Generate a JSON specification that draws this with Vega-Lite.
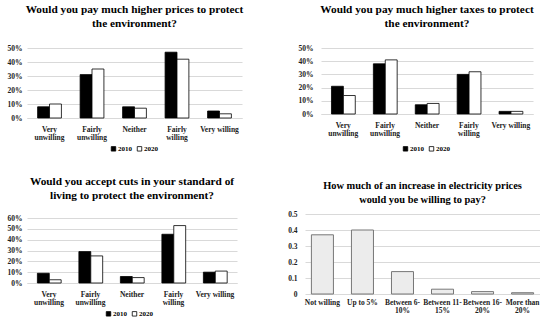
{
  "$schema": "https://vega.github.io/schema/vega-lite/v6.json",
  "background": "white",
  "padding": {"left": 7, "top": 4, "right": 0, "bottom": 0},
  "datasets": {
    "prices": [
      {"answer": "Very unwilling", "year": "2010", "value": 0.08},
      {"answer": "Very unwilling", "year": "2020", "value": 0.10},
      {"answer": "Fairly unwilling", "year": "2010", "value": 0.31},
      {"answer": "Fairly unwilling", "year": "2020", "value": 0.35},
      {"answer": "Neither", "year": "2010", "value": 0.08},
      {"answer": "Neither", "year": "2020", "value": 0.07},
      {"answer": "Fairly willing", "year": "2010", "value": 0.47},
      {"answer": "Fairly willing", "year": "2020", "value": 0.42},
      {"answer": "Very willing", "year": "2010", "value": 0.05},
      {"answer": "Very willing", "year": "2020", "value": 0.03}
    ],
    "taxes": [
      {"answer": "Very unwilling", "year": "2010", "value": 0.21},
      {"answer": "Very unwilling", "year": "2020", "value": 0.14},
      {"answer": "Fairly unwilling", "year": "2010", "value": 0.38},
      {"answer": "Fairly unwilling", "year": "2020", "value": 0.41},
      {"answer": "Neither", "year": "2010", "value": 0.07},
      {"answer": "Neither", "year": "2020", "value": 0.08},
      {"answer": "Fairly willing", "year": "2010", "value": 0.30},
      {"answer": "Fairly willing", "year": "2020", "value": 0.32},
      {"answer": "Very willing", "year": "2010", "value": 0.02},
      {"answer": "Very willing", "year": "2020", "value": 0.02}
    ],
    "cuts": [
      {"answer": "Very unwilling", "year": "2010", "value": 0.09},
      {"answer": "Very unwilling", "year": "2020", "value": 0.03},
      {"answer": "Fairly unwilling", "year": "2010", "value": 0.29},
      {"answer": "Fairly unwilling", "year": "2020", "value": 0.25},
      {"answer": "Neither", "year": "2010", "value": 0.06},
      {"answer": "Neither", "year": "2020", "value": 0.05},
      {"answer": "Fairly willing", "year": "2010", "value": 0.45},
      {"answer": "Fairly willing", "year": "2020", "value": 0.53},
      {"answer": "Very willing", "year": "2010", "value": 0.10},
      {"answer": "Very willing", "year": "2020", "value": 0.11}
    ],
    "electricity": [
      {"answer": "Not willing", "value": 0.37},
      {"answer": "Up to 5%", "value": 0.40},
      {"answer": "Between 6-10%", "value": 0.14},
      {"answer": "Between 11-15%", "value": 0.03},
      {"answer": "Between 16-20%", "value": 0.015},
      {"answer": "More than 20%", "value": 0.008}
    ]
  },
  "config": {
    "font": "Liberation Serif",
    "view": {"stroke": null},
    "title": {"font": "Liberation Serif", "fontSize": 11.3, "fontWeight": "bold", "color": "black", "lineHeight": 13.3, "offset": 14},
    "axis": {"labelFont": "Liberation Serif", "labelFontWeight": "bold", "labelFontSize": 7.5, "labelColor": "#222", "ticks": false, "title": null, "gridColor": "#d9d9d9", "domain": false, "labelLineHeight": 8.5},
    "axisX": {"domain": true, "domainColor": "#d9d9d9", "labelAngle": 0, "labelPadding": 7},
    "axisY": {"labelPadding": 5},
    "legend": {"orient": "none", "direction": "horizontal", "title": null, "symbolType": "square", "symbolSize": 20, "symbolStrokeColor": "black", "symbolStrokeWidth": 0.8, "labelFont": "Liberation Serif", "labelFontWeight": "bold", "labelFontSize": 7, "columnPadding": 3, "labelOffset": 1},
    "concat": {"spacing": 50}
  },
  "resolve": {"scale": {"color": "independent"}, "legend": {"color": "independent"}},
  "spacing": 23,
  "vconcat": [
    {
      "resolve": {"scale": {"color": "independent"}, "legend": {"color": "independent"}},
      "spacing": 54,
      "hconcat": [
        {
          "title": {"text": ["Would you pay much higher prices to protect", "the environment?"], "offset": 15},
          "width": 215, "height": 70,
          "data": {"name": "prices"},
          "mark": {"type": "bar", "stroke": "black", "strokeWidth": 0.8},
          "encoding": {
            "x": {"field": "answer", "type": "nominal", "sort": null, "scale": {"paddingInner": 0.44, "paddingOuter": 0.25},
                  "axis": {"labelExpr": "indexof(['Very unwilling','Fairly unwilling','Fairly willing'], datum.value) >= 0 ? split(datum.value, ' ') : datum.value"}},
            "xOffset": {"field": "year", "type": "nominal", "scale": {"paddingInner": 0}},
            "y": {"field": "value", "type": "quantitative", "scale": {"domain": [0, 0.5]}, "axis": {"format": ".0%", "values": [0, 0.1, 0.2, 0.3, 0.4, 0.5]}},
            "color": {"field": "year", "type": "nominal", "scale": {"domain": ["2010", "2020"], "range": ["black", "white"]}, "legend": {"legendX": 83, "legendY": 97}}
          }
        },
        {
          "title": {"text": ["Would you pay much higher taxes to protect", "the environment?"], "offset": 15},
          "width": 212, "height": 66,
          "data": {"name": "taxes"},
          "mark": {"type": "bar", "stroke": "black", "strokeWidth": 0.8},
          "encoding": {
            "x": {"field": "answer", "type": "nominal", "sort": null, "scale": {"paddingInner": 0.44, "paddingOuter": 0.25},
                  "axis": {"labelExpr": "indexof(['Very unwilling','Fairly unwilling','Fairly willing'], datum.value) >= 0 ? split(datum.value, ' ') : datum.value"}},
            "xOffset": {"field": "year", "type": "nominal", "scale": {"paddingInner": 0}},
            "y": {"field": "value", "type": "quantitative", "scale": {"domain": [0, 0.5]}, "axis": {"format": ".0%", "values": [0, 0.1, 0.2, 0.3, 0.4, 0.5], "labelPadding": 8}},
            "color": {"field": "year", "type": "nominal", "scale": {"domain": ["2010", "2020"], "range": ["black", "white"]}, "legend": {"legendX": 81, "legendY": 97}}
          }
        }
      ]
    },
    {
      "resolve": {"scale": {"color": "independent"}, "legend": {"color": "independent"}},
      "spacing": 50,
      "hconcat": [
        {
          "title": {"text": ["Would you accept cuts in your standard of", "living to protect the environment?"], "offset": 13},
          "width": 210, "height": 69,
          "data": {"name": "cuts"},
          "mark": {"type": "bar", "stroke": "black", "strokeWidth": 0.8},
          "encoding": {
            "x": {"field": "answer", "type": "nominal", "sort": null, "scale": {"paddingInner": 0.44, "paddingOuter": 0.25},
                  "axis": {"labelExpr": "indexof(['Very unwilling','Fairly unwilling','Fairly willing'], datum.value) >= 0 ? split(datum.value, ' ') : datum.value"}},
            "xOffset": {"field": "year", "type": "nominal", "scale": {"paddingInner": 0}},
            "y": {"field": "value", "type": "quantitative", "scale": {"domain": [0, 0.637], "nice": false}, "axis": {"format": ".0%", "values": [0, 0.1, 0.2, 0.3, 0.4, 0.5, 0.6]}},
            "color": {"field": "year", "type": "nominal", "scale": {"domain": ["2010", "2020"], "range": ["black", "white"]}, "legend": {"legendX": 78, "legendY": 96}}
          }
        },
        {
          "title": {"text": ["How much of an increase in electricity prices", "would you be willing to pay?"], "offset": 5, "fontSize": 10.4},
          "width": 235, "height": 80,
          "data": {"name": "electricity"},
          "mark": {"type": "bar", "fill": "#ececec", "stroke": "#777", "strokeWidth": 1},
          "encoding": {
            "x": {"field": "answer", "type": "nominal", "sort": null, "scale": {"paddingInner": 0.45, "paddingOuter": 0.16},
                  "axis": {"labelExpr": "datum.value == 'Between 6-10%' ? ['Between 6-','10%'] : datum.value == 'Between 11-15%' ? ['Between 11-','15%'] : datum.value == 'Between 16-20%' ? ['Between 16-','20%'] : datum.value == 'More than 20%' ? ['More than','20%'] : datum.value", "domain": false, "labelPadding": 4}},
            "y": {"field": "value", "type": "quantitative", "scale": {"domain": [0, 0.5]}, "axis": {"format": "~g", "values": [0, 0.1, 0.2, 0.3, 0.4, 0.5], "labelPadding": 8}}
          }
        }
      ]
    }
  ]
}
